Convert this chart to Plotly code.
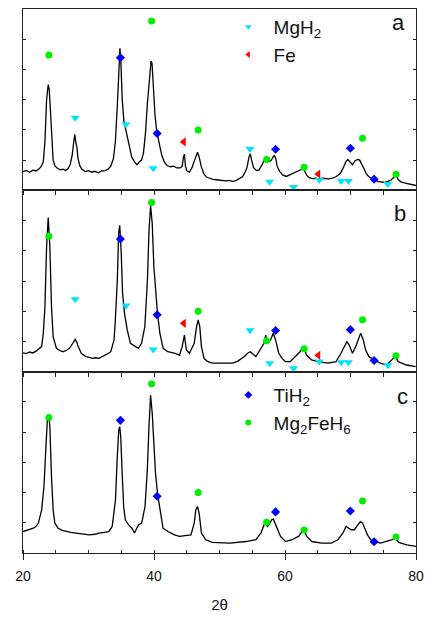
import plotly.graph_objects as go
from plotly.subplots import make_subplots

# ---------------- data (2theta, intensity in arbitrary units) ----------------
theta_a = [20.0, 20.5, 21.0, 21.5, 22.0, 22.5, 22.8, 23.1, 23.35, 23.6, 23.85, 24.0, 24.15, 24.35, 24.6,
           24.9, 25.3, 25.7, 26.1, 26.5, 26.9, 27.2, 27.5, 27.75, 27.9, 28.1, 28.25, 28.4, 28.7, 29.0,
           29.5, 30.0, 30.5, 31.0, 31.5, 32.0, 32.5, 33.0, 33.4, 33.8, 34.1, 34.4, 34.65, 34.8, 34.95,
           35.15, 35.4, 35.65, 35.9, 36.2, 36.6, 37.0, 37.4, 37.8, 38.1, 38.4, 38.7, 39.0, 39.3, 39.55,
           39.7, 39.9, 40.15, 40.4, 40.6, 40.9, 41.2, 41.6, 42.0, 42.5, 43.0, 43.5, 44.0, 44.3, 44.5,
           44.64, 44.8, 45.0, 45.4, 45.8, 46.2, 46.5, 46.65, 46.9, 47.2, 47.6, 48.0, 48.5, 49.0, 49.5,
           50.0, 50.5, 51.0, 51.5, 52.0, 52.5, 53.0, 53.5, 53.8, 54.2, 54.5, 54.7, 54.9, 55.2, 55.6,
           56.0, 56.5, 56.8, 57.06, 57.3, 57.6, 57.9, 58.2, 58.35, 58.6, 58.8, 59.2, 59.7, 60.2, 60.6,
           61.1, 61.6, 62.0, 62.4, 62.8, 63.0, 63.3, 63.7, 64.2, 64.7, 65.2, 65.7, 66.2, 66.7, 67.2,
           67.7, 68.1, 68.5, 68.9, 69.3, 69.6, 69.9, 70.3, 70.7, 71.1, 71.4, 71.8, 72.1, 72.4, 72.8,
           73.2, 73.7, 74.2, 74.7, 75.2, 75.7, 76.2, 76.7, 77.0, 77.3, 77.7, 78.2, 78.7, 79.2, 79.6, 80.0]
int_a = [0.62, 0.66, 0.60, 0.67, 0.64, 0.72, 0.80, 0.95, 1.60, 3.00, 3.50, 3.35, 2.80, 1.80, 1.00,
         0.80, 0.72, 0.68, 0.70, 0.66, 0.72, 0.85, 1.15, 1.60, 1.85, 1.55, 1.40, 1.05, 0.80, 0.70,
         0.62, 0.65, 0.60, 0.63, 0.58, 0.64, 0.65, 0.70, 0.80, 1.05, 1.60, 2.80, 4.20, 4.70, 4.20,
         3.00, 2.30, 2.05, 1.80, 1.40, 1.10, 0.95, 0.85, 0.95, 1.00, 1.25, 1.90, 2.90, 3.80, 4.28,
         4.20, 3.40, 2.50, 1.98, 1.80, 1.45, 1.15, 0.92, 0.82, 0.78, 0.80, 0.74, 0.74, 0.80, 1.10,
         1.20, 0.80, 0.65, 0.60, 0.75, 1.00, 1.20, 1.26, 1.10, 0.80, 0.55, 0.44, 0.40, 0.36, 0.35,
         0.34, 0.33, 0.31, 0.33, 0.30, 0.32, 0.38, 0.45, 0.55, 0.75, 1.10, 1.21, 1.00, 0.75, 0.66,
         0.66, 0.85, 1.00, 1.10, 1.00, 0.95, 1.00, 1.12, 1.16, 1.05, 0.80, 0.62, 0.50, 0.46, 0.50,
         0.55, 0.58, 0.62, 0.68, 0.73, 0.65, 0.50, 0.42, 0.39, 0.40, 0.38, 0.40, 0.39, 0.38, 0.40,
         0.44, 0.50, 0.58, 0.75, 0.95, 1.02, 0.95, 0.85, 0.98, 1.02, 1.00, 0.85, 0.70, 0.55, 0.45,
         0.40, 0.33, 0.30, 0.27, 0.26, 0.30, 0.34, 0.45, 0.47, 0.35, 0.28, 0.25, 0.22, 0.20, 0.18, 0.16]

theta_b = [20.0, 20.5, 21.0, 21.5, 22.0, 22.4, 22.85, 23.1, 23.35, 23.6, 23.85, 24.1, 24.35, 24.6, 25.1,
           25.6, 26.1, 26.6, 27.1, 27.6, 27.96, 28.2, 28.4, 28.9, 29.6, 30.1, 30.6, 31.1, 31.6, 32.1,
           32.6, 33.0, 33.4, 33.9, 34.1, 34.4, 34.6, 34.77, 35.0, 35.2, 35.5, 35.9, 36.4, 37.1, 37.6,
           38.1, 38.6, 39.0, 39.23, 39.48, 39.73, 39.98, 40.23, 40.53, 40.9, 41.4, 42.1, 42.6, 43.1, 43.9,
           44.3, 44.64, 44.94, 45.4, 45.8, 46.14, 46.5, 46.74, 46.99, 47.24, 47.64, 48.1, 48.64, 49.05, 50.0,
           51.0, 52.05, 52.8, 53.8, 54.3, 54.7, 55.56, 56.3, 56.8, 57.06, 57.3, 57.8, 58.2, 58.56, 59.05,
           59.55, 60.05, 60.8, 61.56, 62.3, 62.8, 63.3, 64.05, 65.05, 66.55, 67.8, 68.55, 69.05, 69.45, 69.8,
           70.3, 70.8, 71.3, 71.55, 71.95, 72.3, 72.8, 73.55, 74.55, 75.55, 76.3, 76.8, 77.3, 78.55, 79.95]
int_b = [0.62, 0.60, 0.65, 0.62, 0.68, 0.75, 0.83, 1.27, 2.15, 4.13, 5.10, 4.13, 2.15, 1.16, 0.77,
         0.70, 0.66, 0.70, 0.77, 0.94, 1.07, 0.98, 0.85, 0.61, 0.50, 0.47, 0.44, 0.46, 0.44, 0.50,
         0.55, 0.60, 0.66, 1.05, 1.71, 3.03, 4.57, 4.84, 3.91, 2.60, 1.93, 1.40, 0.94, 0.83, 0.77,
         0.94, 1.49, 3.03, 4.64, 5.50, 4.90, 3.47, 2.59, 1.93, 1.27, 0.77, 0.66, 0.64, 0.61, 0.55,
         0.83, 1.21, 0.72, 0.61, 0.80, 0.94, 1.49, 1.71, 1.49, 0.83, 0.44, 0.35, 0.30, 0.28, 0.28,
         0.27, 0.28, 0.35, 0.50, 0.61, 0.66, 0.50, 0.77, 0.94, 1.21, 0.94, 1.05, 1.27, 1.05, 0.61,
         0.44, 0.33, 0.33, 0.50, 0.66, 0.83, 0.55, 0.39, 0.33, 0.28, 0.33, 0.61, 0.83, 0.99, 0.88,
         0.61, 0.83, 1.16, 1.27, 1.05, 0.72, 0.50, 0.39, 0.28, 0.22, 0.39, 0.50, 0.33, 0.22, 0.17]

theta_c = [20.0, 20.5, 21.0, 21.6, 22.0, 22.35, 22.85, 23.2, 23.5, 23.75, 23.95, 24.1, 24.35, 24.6, 24.85,
           25.36, 26.0, 26.6, 27.3, 28.1, 29.0, 30.1, 31.0, 31.6, 32.4, 33.1, 33.62, 34.12, 34.37, 34.62,
           34.77, 34.92, 35.12, 35.37, 35.62, 36.12, 36.62, 37.02, 37.62, 38.12, 38.63, 38.98, 39.23, 39.48, 39.73,
           39.98, 40.23, 40.53, 40.88, 41.38, 42.13, 43.13, 43.88, 44.8, 45.64, 46.14, 46.39, 46.64, 46.89, 47.24,
           47.89, 48.89, 49.05, 51.55, 54.06, 55.56, 56.31, 56.81, 57.06, 57.31, 57.56, 57.97, 58.22, 58.47, 58.82,
           59.32, 60.07, 61.07, 62.07, 62.82, 63.33, 64.08, 65.58, 67.08, 68.08, 68.83, 69.34, 69.69, 70.09, 70.59,
           71.09, 71.49, 71.84, 72.19, 72.59, 73.09, 73.59, 74.59, 75.6, 76.35, 76.85, 77.35, 78.6, 80.0]
int_c = [0.71, 0.75, 0.78, 0.82, 0.88, 0.99, 1.43, 2.20, 3.52, 4.51, 4.57, 4.18, 2.53, 1.43, 0.99,
         0.82, 0.75, 0.71, 0.68, 0.66, 0.63, 0.60, 0.62, 0.66, 0.68, 0.71, 0.88, 1.76, 3.08, 4.07,
         4.18, 3.85, 2.75, 1.54, 1.10, 0.93, 0.82, 0.66, 0.93, 0.99, 1.54, 2.75, 4.18, 5.22, 4.62,
         3.41, 2.64, 1.98, 1.43, 0.82, 0.71, 0.60, 0.55, 0.57, 0.60, 0.99, 1.43, 1.54, 1.32, 0.66,
         0.44, 0.35, 0.35, 0.33, 0.38, 0.44, 0.66, 0.93, 0.99, 0.88, 0.93, 1.10, 1.12, 0.99, 0.77,
         0.55, 0.38, 0.44, 0.55, 0.77, 0.55, 0.38, 0.33, 0.33, 0.44, 0.66, 0.88, 0.82, 0.77, 0.77,
         0.93, 1.04, 0.99, 0.82, 0.60, 0.44, 0.38, 0.33, 0.38, 0.44, 0.49, 0.35, 0.27, 0.22]

# phase reflection markers (same in every panel)
mg2feh6_x = [23.95, 39.63, 46.75, 57.2, 62.92, 71.84, 76.95]
mg2feh6_y = [4.48, 5.60, 2.00, 1.02, 0.76, 1.72, 0.53]
tih2_x = [34.87, 40.48, 58.56, 69.98, 73.6]
tih2_y = [4.39, 1.88, 1.36, 1.39, 0.37]
mgh2_x = [27.96, 35.72, 39.88, 54.66, 57.66, 61.3, 65.23, 68.58, 69.68, 75.7]
mgh2_y = [2.40, 2.19, 0.73, 1.37, 0.28, 0.11, 0.34, 0.31, 0.31, 0.21]
fe_x = [44.54, 65.08]
fe_y = [1.60, 0.54]

panel_labels = ["a", "b", "c"]
x_tick_vals = [20, 40, 60, 80]

C_MGH2 = "#00e5f5"
C_FE = "#ff0000"
C_TIH2 = "#0000ff"
C_MG2 = "#00ee00"
FONT = "Liberation Sans, Arial, sans-serif"

fig = make_subplots(rows=3, cols=1, vertical_spacing=0)

curves = [(theta_a, int_a), (theta_b, int_b), (theta_c, int_c)]
for r, (tx, ty) in enumerate(curves, start=1):
    fig.add_trace(go.Scatter(x=tx, y=ty, mode="lines", line=dict(color="black", width=1.3),
                             showlegend=False, hoverinfo="skip"), row=r, col=1)
    if r in (1, 2):
        fig.add_trace(go.Scatter(x=mgh2_x, y=mgh2_y, mode="markers", showlegend=False,
                                 marker=dict(symbol="triangle-down", size=8, color=C_MGH2)), row=r, col=1)
        fig.add_trace(go.Scatter(x=fe_x, y=fe_y, mode="markers", showlegend=False,
                                 marker=dict(symbol="triangle-left", size=8, color=C_FE)), row=r, col=1)
    fig.add_trace(go.Scatter(x=tih2_x, y=tih2_y, mode="markers", showlegend=False,
                             marker=dict(symbol="diamond", size=7, color=C_TIH2)), row=r, col=1)
    fig.add_trace(go.Scatter(x=mg2feh6_x, y=mg2feh6_y, mode="markers", showlegend=False,
                             marker=dict(symbol="circle", size=7, color=C_MG2)), row=r, col=1)

# legend-only entries
NB = "\u00a0"
fig.add_trace(go.Scatter(x=[None], y=[None], mode="markers", name=NB + "MgH<sub>2</sub>",
                         marker=dict(symbol="triangle-down", size=6, color=C_MGH2), legend="legend"))
fig.add_trace(go.Scatter(x=[None], y=[None], mode="markers", name=NB + "Fe",
                         marker=dict(symbol="triangle-left", size=6, color=C_FE), legend="legend"))
fig.add_trace(go.Scatter(x=[None], y=[None], mode="markers", name=NB + "TiH<sub>2</sub>",
                         marker=dict(symbol="diamond", size=6, color=C_TIH2), legend="legend2"))
fig.add_trace(go.Scatter(x=[None], y=[None], mode="markers", name=NB + "Mg<sub>2</sub>FeH<sub>6</sub>",
                         marker=dict(symbol="circle", size=6, color=C_MG2), legend="legend2"))

AX_COL = "#222222"
for r in (1, 2, 3):
    fig.update_yaxes(range=[0, 6], tickvals=[1, 2, 3, 4, 5], ticks="inside", ticklen=3,
                     tickcolor=AX_COL, showticklabels=False, showline=True, linecolor=AX_COL,
                     linewidth=1.3, mirror="ticks", showgrid=False, zeroline=False, row=r, col=1)
for r in (1, 2):
    fig.update_xaxes(range=[20, 80], tick0=20, dtick=5, ticks="outside", ticklen=4,
                     tickcolor=AX_COL, showticklabels=False, showline=True, linecolor=AX_COL,
                     linewidth=1.3, mirror=True, showgrid=False, zeroline=False, row=r, col=1)
fig.update_xaxes(range=[20, 80], tickmode="array", tickvals=x_tick_vals,
                 ticktext=[str(v) for v in x_tick_vals], ticks="outside", ticklen=6,
                 tickcolor=AX_COL, showline=True, linecolor=AX_COL, linewidth=1.3, mirror=True,
                 minor=dict(tick0=20, dtick=5, ticks="inside", ticklen=3, tickcolor=AX_COL),
                 showgrid=False, zeroline=False, ticklabelstandoff=4,
                 tickfont=dict(size=14, family=FONT, color="#111"),
                 title=dict(text="2θ", font=dict(size=15, family=FONT, color="#111"), standoff=16),
                 row=3, col=1)

annotations = []
label_pos = [(0.9557, 0.975), (0.96, 0.6233), (0.9667, 0.2872)]
for lab, (px, py) in zip(panel_labels, label_pos):
    annotations.append(dict(text=lab, x=px, y=py, xref="paper", yref="paper", showarrow=False,
                            xanchor="center", yanchor="middle",
                            font=dict(size=22, family=FONT, color="#111")))

fig.update_layout(
    width=432, height=619,
    margin=dict(l=23, r=10, t=8, b=66),
    paper_bgcolor="white", plot_bgcolor="white",
    font=dict(family=FONT, color="#111"),
    annotations=annotations,
    legend=dict(x=0.5225, y=1.002, xanchor="left", yanchor="top", bgcolor="rgba(0,0,0,0)",
                font=dict(size=19, family=FONT, color="#111"), itemsizing="trace"),
    legend2=dict(x=0.5225, y=0.3253, xanchor="left", yanchor="top", bgcolor="rgba(0,0,0,0)",
                 font=dict(size=19, family=FONT, color="#111"), itemsizing="trace"),
)

fig.write_html("out.html")
